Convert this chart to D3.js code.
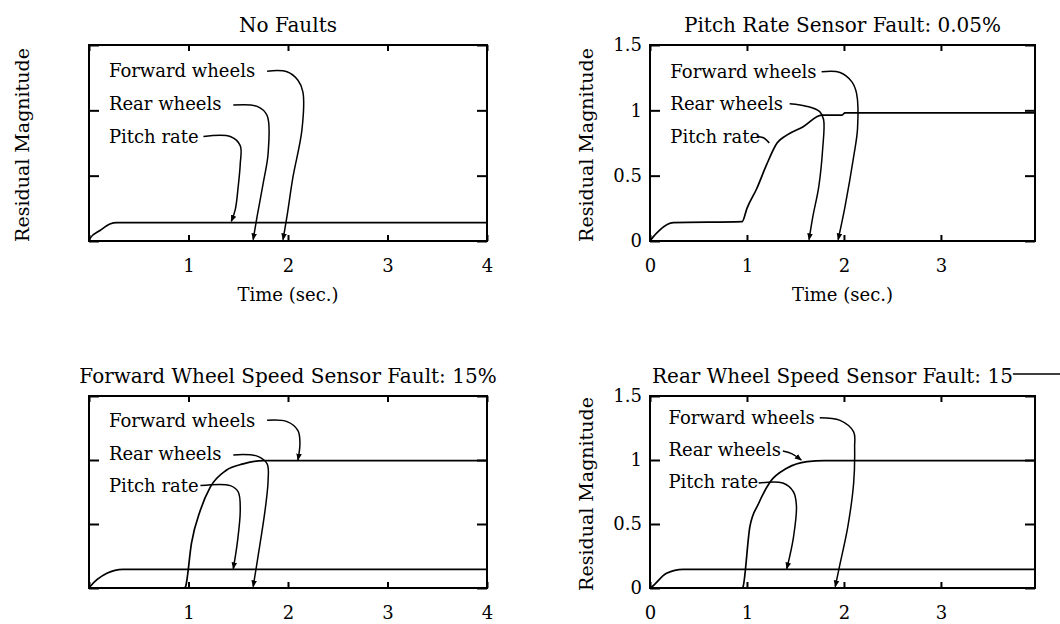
<!DOCTYPE html>
<html>
<head>
<meta charset="utf-8">
<script src="https://cdn.jsdelivr.net/npm/d3@7"></script>
<style>
  body { margin: 0; background: #fff; }
  svg text { font-family: "DejaVu Serif", "Liberation Serif", serif; fill: #000; }
</style>
</head>
<body>
<script>
// ---- data (time in sec, residual magnitude) ----
var xTicks = [0, 1, 2, 3, 4];
var yTicks = [0, 0.5, 1, 1.5];
var seriesNames = ["Forward wheels", "Rear wheels", "Pitch rate"];
var titles = [
  "No Faults",
  "Pitch Rate Sensor Fault: 0.05%",
  "Forward Wheel Speed Sensor Fault: 15%",
  "Rear Wheel Speed Sensor Fault: 15"
];

// No faults
var nfForward = [[0, 0], [4, 0]];
var nfRear = [[0, 0], [4, 0]];
var nfPitch = [[0, 0], [0.01, 0.02], [0.11, 0.08], [0.21, 0.13], [0.28, 0.14], [4, 0.14]];

// Pitch rate sensor fault
var prForward = [[0, 0], [3.97, 0]];
var prRear = [[0, 0], [3.97, 0]];
var prPitch = [[0, 0], [0.02, 0.02], [0.1, 0.084], [0.24, 0.14], [0.95, 0.148], [1.0, 0.25],
  [1.1, 0.4], [1.2, 0.58], [1.31, 0.75], [1.41, 0.81], [1.58, 0.875], [1.77, 0.964],
  [1.98, 0.964], [2.01, 0.98], [3.97, 0.98]];

// Forward wheel speed sensor fault
var fwForward = [[0, 0], [0.96, 0], [0.97, 0.01], [1.03, 0.35], [1.12, 0.61], [1.22, 0.79],
  [1.38, 0.92], [1.55, 0.97], [1.75, 0.995], [4, 0.995]];
var fwRear = [[0, 0], [4, 0]];
var fwPitch = [[0, 0], [0.01, 0.01], [0.18, 0.115], [0.34, 0.146], [4, 0.146]];

// Rear wheel speed sensor fault
var rwForward = [[0, 0], [3.97, 0]];
var rwRear = [[0, 0], [0.955, 0], [0.96, 0.01], [1.03, 0.48], [1.12, 0.66], [1.24, 0.83],
  [1.41, 0.935], [1.62, 0.987], [1.8, 0.995], [3.97, 0.995]];
var rwPitch = [[0, 0], [0.02, 0.01], [0.17, 0.115], [0.34, 0.146], [3.97, 0.146]];

// label anchor (time, magnitude) for Forward / Rear / Pitch
var nfLabels = [[0.2, 1.3], [0.2, 1.05], [0.2, 0.8]];
var prLabels = [[0.21, 1.295], [0.21, 1.05], [0.21, 0.8]];
var fwLabels = [[0.2, 1.31], [0.2, 1.05], [0.2, 0.8]];
var rwLabels = [[0.19, 1.33], [0.19, 1.08], [0.19, 0.83]];

// leader lines from label to curve
var nfLeaders = [
  [[1.79, 1.3], [1.99, 1.295], [2.1, 1.23], [2.15, 1.14], [2.14, 0.85], [2.05, 0.49], [1.99, 0.19], [1.95, 0.01]],
  [[1.45, 1.04], [1.69, 1.03], [1.79, 0.96], [1.8, 0.67], [1.75, 0.44], [1.69, 0.19], [1.65, 0.01]],
  [[1.15, 0.8], [1.42, 0.8], [1.52, 0.73], [1.52, 0.59], [1.5, 0.42], [1.47, 0.24], [1.43, 0.15]]
];
var prLeaders = [
  [[1.77, 1.295], [1.96, 1.29], [2.08, 1.22], [2.13, 1.13], [2.14, 0.86], [2.1, 0.645], [2.01, 0.26], [1.94, 0.01]],
  [[1.44, 1.05], [1.62, 1.03], [1.75, 0.99], [1.79, 0.93], [1.78, 0.7], [1.74, 0.415], [1.68, 0.19], [1.64, 0.01]],
  [[1.1, 0.8], [1.17, 0.79], [1.23, 0.75]]
];
var fwLeaders = [
  [[1.79, 1.31], [1.99, 1.3], [2.1, 1.23], [2.12, 1.13], [2.1, 1.0]],
  [[1.45, 1.04], [1.69, 1.03], [1.79, 0.97], [1.8, 0.84], [1.77, 0.61], [1.72, 0.35], [1.65, 0.01]],
  [[1.12, 0.8], [1.42, 0.8], [1.5, 0.75], [1.52, 0.61], [1.49, 0.35], [1.45, 0.15]]
];
var rwLeaders = [
  [[1.75, 1.33], [1.96, 1.31], [2.1, 1.22], [2.11, 1.1], [2.1, 0.82], [2.04, 0.48], [1.96, 0.19], [1.91, 0.01]],
  [[1.37, 1.07], [1.46, 1.05], [1.56, 1.0]],
  [[1.12, 0.82], [1.37, 0.82], [1.48, 0.75], [1.51, 0.64], [1.48, 0.4], [1.44, 0.245], [1.41, 0.15]]
];

// ---- layout ----
var panels = [
  { left: 89, top: 45, w: 398, h: 196, xMax: 4, title: titles[0],
    series: [nfForward, nfRear, nfPitch], labels: nfLabels, leaders: nfLeaders, arrows: [1, 1, 1],
    yLabel: true, yNums: false, xLabels: [1, 2, 3, 4], xTitle: true },
  { left: 650, top: 45, w: 385, h: 196, xMax: 3.97, title: titles[1],
    series: [prForward, prRear, prPitch], labels: prLabels, leaders: prLeaders, arrows: [1, 1, 0],
    yLabel: true, yNums: true, xLabels: [0, 1, 2, 3], xTitle: true },
  { left: 89, top: 396, w: 398, h: 192, xMax: 4, title: titles[2],
    series: [fwForward, fwRear, fwPitch], labels: fwLabels, leaders: fwLeaders, arrows: [1, 1, 1],
    yLabel: false, yNums: false, xLabels: [1, 2, 3, 4], xTitle: false },
  { left: 650, top: 396, w: 385, h: 192, xMax: 3.97, title: titles[3], titleTail: true,
    series: [rwForward, rwRear, rwPitch], labels: rwLabels, leaders: rwLeaders, arrows: [1, 1, 1],
    yLabel: true, yNums: true, xLabels: [0, 1, 2, 3], xTitle: false }
];

var svg = d3.select("body").append("svg")
  .attr("width", 1060)
  .attr("height", 624);

svg.append("defs").append("marker")
  .attr("id", "arrow")
  .attr("viewBox", "0 0 10 10")
  .attr("refX", 9)
  .attr("refY", 5)
  .attr("markerWidth", 7)
  .attr("markerHeight", 7)
  .attr("markerUnits", "userSpaceOnUse")
  .attr("orient", "auto")
  .append("path")
  .attr("d", "M0,1L10,5L0,9Z")
  .attr("fill", "#000");

panels.forEach(drawPanel);

function drawPanel(p) {
  var x = d3.scaleLinear().domain([0, p.xMax]).range([p.left, p.left + p.w]);
  var y = d3.scaleLinear().domain([0, 1.5]).range([p.top + p.h, p.top]);
  var g = svg.append("g");

  var line = d3.line()
    .x(function (d) { return x(d[0]); })
    .y(function (d) { return y(d[1]); })
    .curve(d3.curveMonotoneX);

  //residual curves
  g.selectAll(".res")
    .data(p.series)
    .enter()
    .append("path")
    .attr("class", "res")
    .attr("d", line)
    .attr("fill", "none")
    .attr("stroke", "#000")
    .attr("stroke-width", 1.7);

  //inside ticks, all four sides
  var xt = xTicks.filter(function (d) { return d <= p.xMax; });
  var axB = g.append("g").attr("transform", "translate(0," + (p.top + p.h) + ")")
    .call(d3.axisBottom(x).tickValues(xt).tickSize(-6).tickPadding(18)
      .tickFormat(function (d) { return p.xLabels.indexOf(d) >= 0 ? d : ""; }));
  var axT = g.append("g").attr("transform", "translate(0," + p.top + ")")
    .call(d3.axisTop(x).tickValues(xt).tickSize(-6).tickFormat(""));
  var axL = g.append("g").attr("transform", "translate(" + p.left + ",0)")
    .call(d3.axisLeft(y).tickValues(yTicks).tickSize(-10).tickPadding(8)
      .tickFormat(function (d) { return p.yNums ? String(d) : ""; }));
  var axR = g.append("g").attr("transform", "translate(" + (p.left + p.w) + ",0)")
    .call(d3.axisRight(y).tickValues(yTicks).tickSize(-10).tickFormat(""));

  [axB, axT, axL, axR].forEach(function (a) {
    a.select(".domain").remove();
    a.selectAll("line").attr("stroke", "#000").attr("stroke-width", 2);
    a.selectAll("text").attr("font-size", 18).attr("fill", "#000")
      .style("font-family", '"DejaVu Serif", serif');
  });

  //frame
  g.append("rect")
    .attr("x", p.left)
    .attr("y", p.top)
    .attr("width", p.w)
    .attr("height", p.h)
    .attr("fill", "none")
    .attr("stroke", "#000")
    .attr("stroke-width", 2);

  //labels
  g.selectAll(".lbl")
    .data(p.labels)
    .enter()
    .append("text")
    .attr("class", "lbl")
    .attr("x", function (d) { return x(d[0]); })
    .attr("y", function (d) { return y(d[1]); })
    .attr("dy", "0.35em")
    .attr("font-size", 18)
    .text(function (d, i) { return seriesNames[i]; });

  //leaders
  var lead = d3.line()
    .x(function (d) { return x(d[0]); })
    .y(function (d) { return y(d[1]); })
    .curve(d3.curveCatmullRom.alpha(0.5));

  g.selectAll(".leader")
    .data(p.leaders)
    .enter()
    .append("path")
    .attr("class", "leader")
    .attr("d", lead)
    .attr("fill", "none")
    .attr("stroke", "#000")
    .attr("stroke-width", 1.5)
    .attr("marker-end", function (d, i) { return p.arrows[i] ? "url(#arrow)" : null; });

  //title
  var cx = p.left + p.w / 2;
  var title = g.append("text")
    .attr("x", p.titleTail ? p.left + 2 : cx)
    .attr("y", p.top - 13)
    .attr("text-anchor", p.titleTail ? "start" : "middle")
    .attr("font-size", 20)
    .text(p.title);

  if (p.titleTail) {
    var tl = title.node().getComputedTextLength();
    g.append("line")
      .attr("x1", p.left + 2 + tl)
      .attr("x2", 1060)
      .attr("y1", p.top - 22)
      .attr("y2", p.top - 22)
      .attr("stroke", "#000")
      .attr("stroke-width", 1.5);
  }

  if (p.xTitle) {
    g.append("text")
      .attr("x", cx)
      .attr("y", p.top + p.h + 60)
      .attr("text-anchor", "middle")
      .attr("font-size", 18)
      .text("Time (sec.)");
  }

  if (p.yLabel) {
    var lx = p.yNums ? p.left - 57 : p.left - 60;
    g.append("text")
      .attr("transform", "translate(" + lx + "," + (p.top + p.h / 2 + 2) + ") rotate(-90)")
      .attr("text-anchor", "middle")
      .attr("font-size", 19)
      .text("Residual Magnitude");
  }
}
</script>
</body>
</html>
